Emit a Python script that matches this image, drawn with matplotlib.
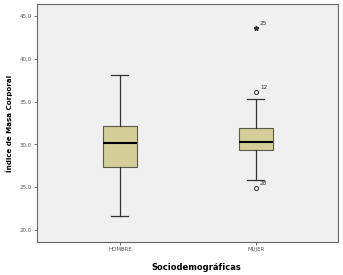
import matplotlib.pyplot as plt
from matplotlib.ticker import FuncFormatter

groups = ['HOMBRE', 'MUJER']
whislo = [21.6, 25.8]
q1 = [27.4, 29.3]
med = [30.15, 30.3]
q3 = [32.1, 31.9]
whishi = [38.1, 35.35]
outliers_circle = [[], [36.1, 24.95]]
outliers_circle_ids = [[], ['12', '28']]
extremes = [[], [43.6]]
extremes_ids = [[], ['25']]

fig = plt.figure(figsize=(3.43, 2.75), dpi=100)
ax = fig.add_axes([37 / 343, 1 - 242 / 275, 301 / 343, 238 / 275])
ax.set_facecolor('#f0f0f0')

stats = []
for i in range(len(groups)):
    stats.append(dict(label=groups[i], whislo=whislo[i], q1=q1[i], med=med[i],
                      q3=q3[i], whishi=whishi[i], fliers=[]))

ax.bxp(stats, positions=[1, 2], widths=0.25, patch_artist=True, showfliers=False,
       boxprops=dict(facecolor='#d4cf98', edgecolor='#5a5a4a', linewidth=0.8),
       medianprops=dict(color='black', linewidth=1.5),
       whiskerprops=dict(color='#333333', linewidth=0.9),
       capprops=dict(color='#333333', linewidth=0.9),
       capwidths=0.125)

for i in range(len(groups)):
    for v, lab in zip(outliers_circle[i], outliers_circle_ids[i]):
        ax.plot(i + 1, v, 'o', mfc='none', mec='#333333', ms=3, mew=0.7)
        ax.text(i + 1.03, v + 0.35, lab, fontsize=4.2, color='#333333')
    for v, lab in zip(extremes[i], extremes_ids[i]):
        ax.plot(i + 1, v, marker='*', color='#333333', ms=3.5, ls='none')
        ax.text(i + 1.03, v + 0.35, lab, fontsize=4.2, color='#333333')

ax.set_xlim(0.39, 2.603)
ax.set_ylim(18.6, 46.4)
ax.set_yticks([20, 25, 30, 35, 40, 45])
ax.yaxis.set_major_formatter(FuncFormatter(lambda v, p: f'{v:.1f}'.replace('.', ',')))
ax.tick_params(labelsize=4, length=2, width=0.6, colors='#555555', pad=1.5)
for s in ax.spines.values():
    s.set_color('#666666')
    s.set_linewidth(0.8)

ax.set_ylabel('Índice de Masa Corporal', fontsize=5.1, fontweight='bold')
ax.yaxis.set_label_coords(-(37 - 13) / 301, 0.5)
ax.set_xlabel('Sociodemográficas', fontsize=6.0, fontweight='bold')
ax.xaxis.set_label_coords((196 - 37) / 301, -(263 - 242) / 238)

fig.savefig('out.png', dpi=100)
